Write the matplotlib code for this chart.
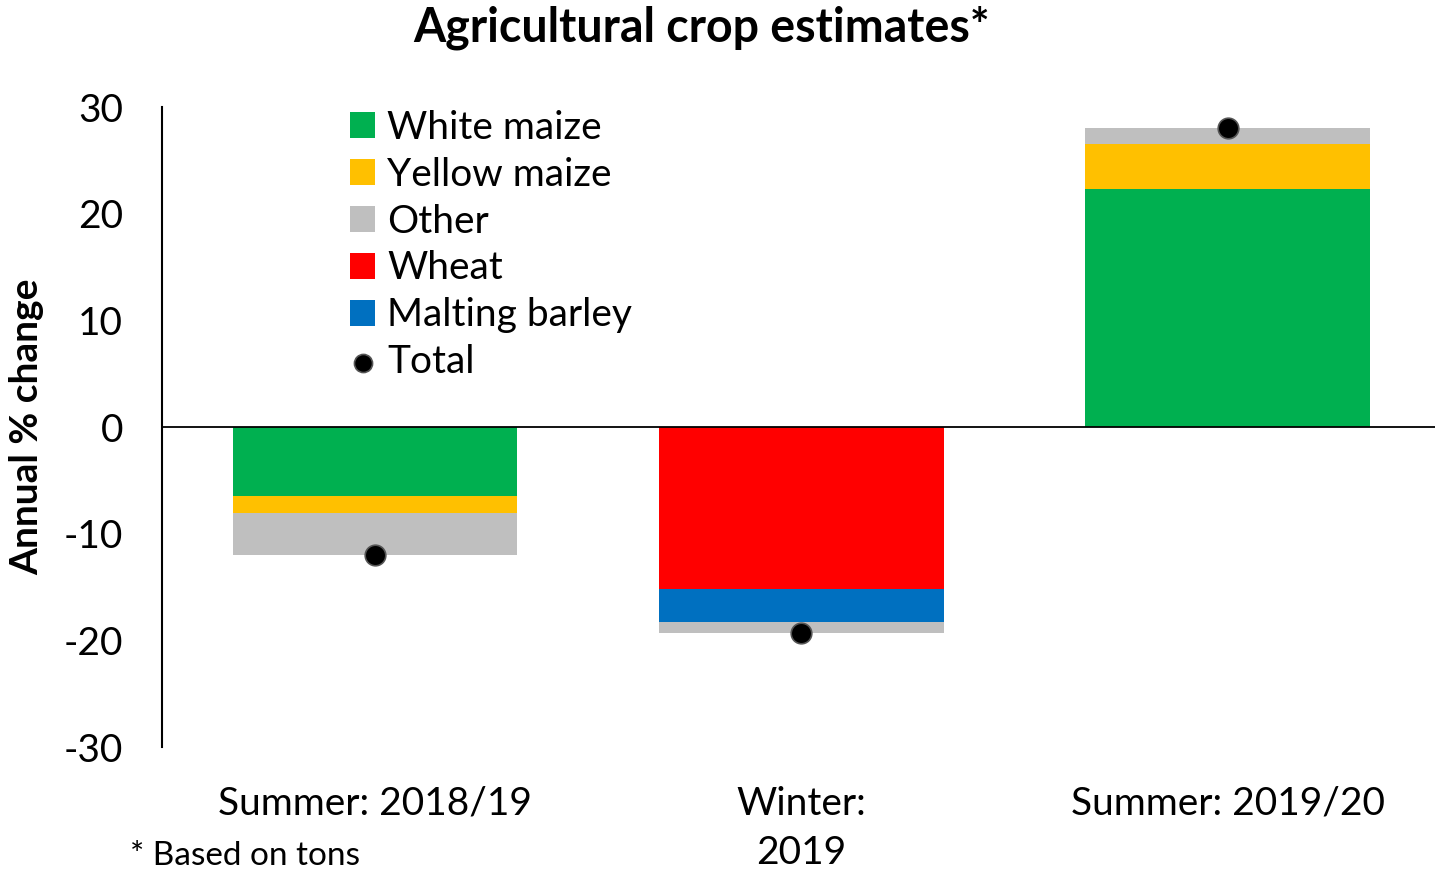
import numpy as np
import matplotlib
matplotlib.use('Agg')
import matplotlib.pyplot as plt

plt.rcParams['font.family'] = ['Lato', 'DejaVu Sans']
plt.rcParams['axes.unicode_minus'] = False

periods = ['Summer: 2018/19', 'Winter:\n2019', 'Summer: 2019/20']
white_maize = [-6.5, 0, 22.3]
yellow_maize = [-1.6, 0, 4.2]
other = [-3.9, -1.0, 1.5]
wheat = [0, -15.2, 0]
malting_barley = [0, -3.1, 0]
total = [-12.0, -19.3, 28.0]

colors = {'White maize': '#00B050', 'Yellow maize': '#FFC000', 'Other': '#BFBFBF',
          'Wheat': '#FF0000', 'Malting barley': '#0070C0'}

fig = plt.figure(figsize=(14.35, 8.72), dpi=100)
ax = fig.add_axes([162/1435, 1-747/872, 1 - 162/1435 + 0.004, 640/872])

x = np.arange(len(periods))
w = 0.667

# stacked: white, yellow, other on summer; wheat, barley, other on winter
pos_base = np.zeros(3)
neg_base = np.zeros(3)
handles = {}
order = [('White maize', white_maize), ('Wheat', wheat), ('Yellow maize', yellow_maize),
         ('Malting barley', malting_barley), ('Other', other)]
for name, vals in order:
    vals = np.array(vals, dtype=float)
    base = np.where(vals >= 0, pos_base, neg_base)
    b = ax.bar(x, vals, w, bottom=base, color=colors[name], label=name, zorder=2)
    handles[name] = b
    pos_base += np.where(vals >= 0, vals, 0)
    neg_base += np.where(vals < 0, vals, 0)

dots = ax.scatter(x, total, s=220, color='black', edgecolor='#555555', linewidth=1.2, zorder=4, label='Total')

ax.axhline(0, color='black', linewidth=1.3, zorder=3)
ax.set_xlim(-0.5, 2.5)
ax.set_ylim(-30, 30)
ax.set_yticks([-30, -20, -10, 0, 10, 20, 30])
ax.tick_params(axis='y', length=0, labelsize=28, pad=28)
ax.tick_params(axis='x', length=0, labelsize=28, pad=28)
ax.set_xticks(x)
ax.set_xticklabels(periods, linespacing=1.45, va='top')
for s in ['top', 'right', 'bottom']:
    ax.spines[s].set_visible(False)
ax.spines['left'].set_linewidth(1.5)
ax.set_ylabel('Annual % change', fontsize=28, fontweight='bold', labelpad=14)

leg_names = ['White maize', 'Yellow maize', 'Other', 'Wheat', 'Malting barley']
leg = ax.legend([handles[n] for n in leg_names] + [dots], leg_names + ['Total'],
                loc='upper left', bbox_to_anchor=(0.135, 1.02), frameon=False,
                fontsize=28, handlelength=0.65, handleheight=0.65, handletextpad=0.3,
                labelspacing=0.28, borderaxespad=0)
leg.legend_handles[-1].set_sizes([170])

fig.text(0.489, 0.968, 'Agricultural crop estimates*', ha='center', va='center',
         fontsize=33.5, fontweight='bold')
fig.text(130/1435, 1/872, '* Based on tons', fontsize=24, va='bottom')

fig.savefig('out.png', dpi=100)
